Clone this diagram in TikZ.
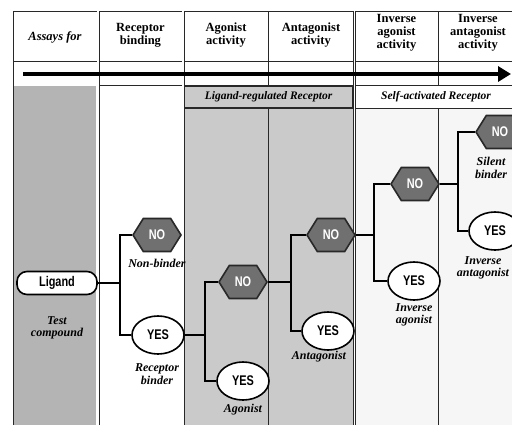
\documentclass[tikz,border=0pt]{standalone}
\usepackage{fontspec}
\setmainfont{Liberation Serif}
\newfontfamily\blockfont[FakeStretch=0.78]{Liberation Sans}
\usetikzlibrary{shapes.symbols,shapes.geometric,arrows.meta}
\begin{document}
\begin{tikzpicture}[
		x=1pt,y=-1pt,
		every node/.style={font=\fontsize{12.5}{13}\selectfont\bfseries},
		hdr/.style={align=center},
		lbl/.style={align=center,font=\fontsize{12}{12.5}\selectfont\bfseries\itshape},
		nohex/.style={signal,signal to=west and east,signal pointer angle=116,
			draw=EdgeDark,line width=1.6pt,fill=GrayNo,text=white,
			minimum width=48pt,minimum height=33pt,inner sep=1pt,
			font=\blockfont\fontsize{14}{14}\selectfont\bfseries},
		yesell/.style={ellipse,draw=black,line width=1.6pt,fill=white,
			minimum width=52pt,minimum height=38pt,inner sep=0pt,
			font=\blockfont\fontsize{14}{14}\selectfont\bfseries},
		conn/.style={line width=2.6pt,draw=black},
		dbl/.style={double,double distance=1.4pt,line width=0.8pt,draw=EdgeDark},
		sgl/.style={line width=1pt,draw=EdgeDark}
	]
		\definecolor{GrayTest}{RGB}{180,180,180}
		\definecolor{GrayLigand}{RGB}{202,202,202}
		\definecolor{GraySelf}{RGB}{246,246,246}
		\definecolor{GrayNo}{RGB}{112,112,112}
		\definecolor{EdgeDark}{RGB}{40,40,40}
		\useasboundingbox (0,0) rectangle (512,424);
		\clip (0,0) rectangle (512,424);
		\fill[white] (0,0) rectangle (512,424);
		% shaded columns
		\fill[GrayTest] (14,86) rectangle (96,430);
		\fill[GrayLigand] (184,86) rectangle (353,430);
		\fill[GraySelf] (356,109) rectangle (530,430);
		% table lines
		\draw[sgl] (13,430) -- (13,11) -- (530,11);
		\draw[sgl] (13,61) -- (530,61);
		\draw[sgl] (98,85) -- (530,85);
		\draw[sgl] (354,108) -- (530,108);
		\draw[dbl] (98,11) -- (98,430);
		\draw[dbl] (183,11) -- (183,430);
		\draw[dbl] (354.5,11) -- (354.5,430);
		\draw[sgl] (268,11) -- (268,85);
		\draw[sgl] (268,108) -- (268,430);
		\draw[sgl] (438,11) -- (438,85);
		\draw[sgl] (438,108) -- (438,430);
		\draw[EdgeDark,line width=1.6pt]
			(184.5,86) rectangle (352.5,108);
		% progression arrow
		\draw[line width=3.6pt,-{Triangle[length=13pt,width=15pt]}]
			(23,74) -- (511,74);
		% header texts
		\node[font=\fontsize{12.5}{13}\selectfont\bfseries\itshape] (hAssay) at (55,37)
			{Assays for};
		\node[hdr] (hBind) at (140.5,35) {Receptor\\binding};
		\node[hdr] (hAgo) at (226,35) {Agonist\\activity};
		\node[hdr] (hAnt) at (311,35) {Antagonist\\activity};
		\node[hdr] (hInvAgo) at (396.5,33) {Inverse\\agonist\\activity};
		\node[hdr] (hInvAnt) at (478,33) {Inverse\\antagonist\\activity};
		\node[lbl,font=\fontsize{11.5}{12}\selectfont\bfseries\itshape] (rLig) at (268.5,97)
			{Ligand-regulated Receptor};
		\node[lbl,font=\fontsize{11.5}{12}\selectfont\bfseries\itshape] (rSelf) at (436,97)
			{Self-activated Receptor};
		% decision tree
		\node[draw=black,line width=1.6pt,fill=white,rounded corners=10pt,
			minimum width=80pt,minimum height=23pt,inner sep=0pt,
			font=\blockfont\fontsize{14}{14}\selectfont\bfseries] (ligand) at (57,283)
			{Ligand};
		\node[lbl] (lTest) at (57,328) {Test\\compound};
		\node[nohex] (no1) at (157,235) {NO};
		\node[yesell] (yes1) at (158,335) {YES};
		\node[lbl] (lNon) at (157,263) {Non-binder};
		\node[lbl] (lRec) at (157,374) {Receptor\\binder};
		\node[nohex] (no2) at (243,282) {NO};
		\node[yesell] (yes2) at (243,381) {YES};
		\node[lbl] (lAgo) at (243,410) {Agonist};
		\node[nohex] (no3) at (331,235) {NO};
		\node[yesell] (yes3) at (328,331) {YES};
		\node[lbl] (lAnt) at (319,357) {Antagonist};
		\node[nohex] (no4) at (415,184) {NO};
		\node[yesell] (yes4) at (414,281) {YES};
		\node[lbl] (lInvAgo) at (414,315) {Inverse\\agonist};
		\node[nohex] (no5) at (500,132) {NO};
		\node[yesell] (yes5) at (495,231) {YES};
		\node[lbl] (lSil) at (491,168) {Silent\\binder};
		\node[lbl] (lInvAnt) at (483,268) {Inverse\\antagonist};
		\coordinate (split1) at (120,283);
		\coordinate (split2) at (205,335);
		\coordinate (split3) at (291,282);
		\coordinate (split4) at (374,235);
		\coordinate (split5) at (458,184);
		\draw[conn] (ligand.east) -- (split1);
		\draw[conn] (no1.west) -| (split1) |- (yes1.west);
		\draw[conn] (yes1.east) -- (split2);
		\draw[conn] (no2.west) -| (split2) |- (yes2.west);
		\draw[conn] (no2.east) -- (split3);
		\draw[conn] (no3.west) -| (split3) |- (yes3.west);
		\draw[conn] (no3.east) -- (split4);
		\draw[conn] (no4.west) -| (split4) |- (yes4.west);
		\draw[conn] (no4.east) -- (split5);
		\draw[conn] (no5.west) -| (split5) |- (yes5.west);
	\end{tikzpicture}
\end{document}
